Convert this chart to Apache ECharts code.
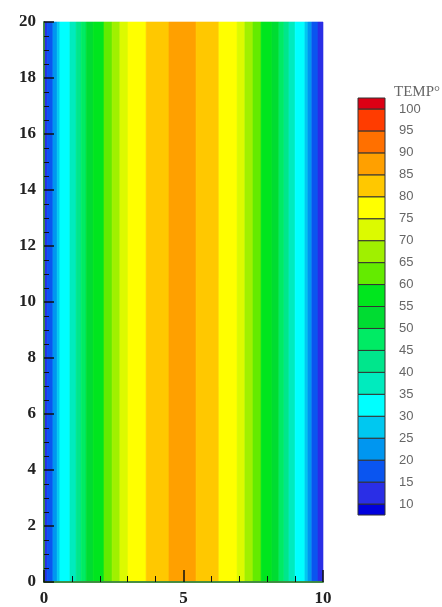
<!DOCTYPE html>
<html>
<head>
<meta charset="utf-8">
<script src="https://cdn.jsdelivr.net/npm/echarts@6/dist/echarts.min.js"></script>
<style>
  html, body { margin: 0; padding: 0; background: #ffffff; }
  #chart { width: 442px; height: 607px; }
</style>
</head>
<body>
<div id="chart"></div>
<script>
// Contour band edges across the slab width (x), the field is uniform along y
const bandEdges = [0.00, 0.11, 0.32, 0.47, 0.57, 0.93, 1.15, 1.33, 1.51, 1.76, 2.15, 2.44, 2.72, 3.01, 3.66, 4.48,
                   5.45, 6.27, 6.92, 7.20, 7.49, 7.78, 8.17, 8.42, 8.60, 8.78, 9.00, 9.35, 9.46, 9.60, 9.82, 10.00];
// Temperature inside each band (band i spans bandEdges[i]..bandEdges[i+1])
const bandTemp = [12.5, 17.5, 22.5, 27.5, 32.5, 37.5, 42.5, 47.5, 52.5, 57.5, 62.5, 67.5, 72.5, 77.5, 82.5, 87.5,
                  82.5, 77.5, 72.5, 67.5, 62.5, 57.5, 52.5, 47.5, 42.5, 37.5, 32.5, 27.5, 22.5, 17.5, 12.5];
const yExtent = [0, 20];

// Contour levels and their fill colours (below first level .. above last level)
const tempLevels = [10, 15, 20, 25, 30, 35, 40, 45, 50, 55, 60, 65, 70, 75, 80, 85, 90, 95, 100];
const levelColors = [
  '#0000dc', '#2a2ee6', '#0a55f0', '#0096f0', '#00c8f0', '#00ffff', '#00ebbe', '#00e68c', '#00eb64',
  '#00dc32', '#00e61e', '#64eb00', '#a0f000', '#dcfa00', '#ffff00', '#ffc800', '#ffa000', '#ff7000',
  '#ff3c00', '#dc0014'
];
const legendTitle = 'TEMP°';

const pieces = [{ lt: tempLevels[0], color: levelColors[0] }];
for (let i = 0; i < tempLevels.length - 1; i++) {
  pieces.push({ gte: tempLevels[i], lt: tempLevels[i + 1], color: levelColors[i + 1] });
}
pieces.push({ gte: tempLevels[tempLevels.length - 1], color: levelColors[levelColors.length - 1] });

const fieldData = bandTemp.map((t, i) => [bandEdges[i], bandEdges[i + 1], t]);

// Colour bar boxes: end boxes are half a step tall
const step = tempLevels[1] - tempLevels[0];
const barData = [];
barData.push([tempLevels[0] - step / 2, tempLevels[0], tempLevels[0] - step / 4]);
for (let i = 0; i < tempLevels.length - 1; i++) {
  barData.push([tempLevels[i], tempLevels[i + 1], (tempLevels[i] + tempLevels[i + 1]) / 2]);
}
const last = tempLevels[tempLevels.length - 1];
barData.push([last, last + step / 2, last + step / 4]);

const tickFont = { fontFamily: 'Liberation Serif', fontWeight: 'bold', fontSize: 17, color: '#222' };
const frameGreen = '#4aa84a';

const chart = echarts.init(document.getElementById('chart'), null, { renderer: 'canvas' });
chart.setOption({
  backgroundColor: '#ffffff',
  animation: false,
  title: {
    text: legendTitle,
    left: 389, top: 80,
    textStyle: { fontFamily: 'Liberation Serif', fontWeight: 'normal', fontSize: 15, color: '#666' }
  },
  grid: [
    { left: 44, top: 22, width: 279, height: 561 },
    { left: 358, top: 98, width: 27, height: 417 }
  ],
  visualMap: {
    type: 'piecewise', show: false, seriesIndex: [0, 1], dimension: 2, pieces: pieces
  },
  xAxis: [
    {
      gridIndex: 0, type: 'value', min: 0, max: 10, interval: 5, position: 'bottom', z: 10,
      axisLine: { lineStyle: { color: '#111', width: 1.5 } },
      axisTick: { inside: true, length: 12, lineStyle: { color: '#111', width: 1.5 } },
      minorTick: { show: true, splitNumber: 5, length: 6, lineStyle: { color: '#111', width: 1 } },
      splitLine: { show: false },
      axisLabel: Object.assign({ margin: 8 }, tickFont)
    },
    {
      gridIndex: 0, type: 'value', min: 0, max: 10, position: 'top', z: 10,
      axisLine: { lineStyle: { color: frameGreen, width: 1.5 } },
      axisTick: { show: false }, axisLabel: { show: false }, splitLine: { show: false }
    },
    { gridIndex: 1, type: 'value', min: 0, max: 1, show: false }
  ],
  yAxis: [
    {
      gridIndex: 0, type: 'value', min: 0, max: 20, interval: 2, position: 'left', z: 10,
      axisLine: { lineStyle: { color: '#111', width: 1.5 } },
      axisTick: { inside: true, length: 10, lineStyle: { color: '#111', width: 1.5 } },
      minorTick: { show: true, splitNumber: 4, length: 5, lineStyle: { color: '#111', width: 1 } },
      splitLine: { show: false },
      axisLabel: Object.assign({ margin: 8 }, tickFont)
    },
    {
      gridIndex: 0, type: 'value', min: 0, max: 20, position: 'right', z: 10,
      axisLine: { lineStyle: { color: frameGreen, width: 1.5 } },
      axisTick: { show: false }, axisLabel: { show: false }, splitLine: { show: false }
    },
    {
      gridIndex: 1, type: 'value', min: 7.5, max: 102.5, interval: 2.5, position: 'right',
      axisLine: { show: false }, axisTick: { show: false }, splitLine: { show: false },
      axisLabel: {
        margin: 14, fontFamily: 'Liberation Sans', fontSize: 13, color: '#666',
        padding: [6, 0, 0, 0],
        formatter: v => (Math.abs(v % 5) < 1e-6 ? String(v) : '')
      }
    }
  ],
  series: [
    {
      type: 'custom', xAxisIndex: 0, yAxisIndex: 0,
      data: fieldData,
      encode: { x: [0, 1] },
      renderItem: (params, api) => {
        const p0 = api.coord([api.value(0), yExtent[1]]);
        const p1 = api.coord([api.value(1), yExtent[0]]);
        const c = api.visual('color');
        return {
          type: 'rect',
          shape: { x: p0[0], y: p0[1], width: p1[0] - p0[0], height: p1[1] - p0[1] },
          style: { fill: c, stroke: c, lineWidth: 0.6 }
        };
      }
    },
    {
      type: 'custom', xAxisIndex: 2, yAxisIndex: 2,
      data: barData,
      encode: { y: [0, 1] },
      renderItem: (params, api) => {
        const p0 = api.coord([0, api.value(1)]);
        const p1 = api.coord([1, api.value(0)]);
        return {
          type: 'rect',
          shape: { x: p0[0], y: p0[1], width: p1[0] - p0[0], height: p1[1] - p0[1] },
          style: { fill: api.visual('color'), stroke: '#333', lineWidth: 1 }
        };
      }
    }
  ]
});
</script>
</body>
</html>
